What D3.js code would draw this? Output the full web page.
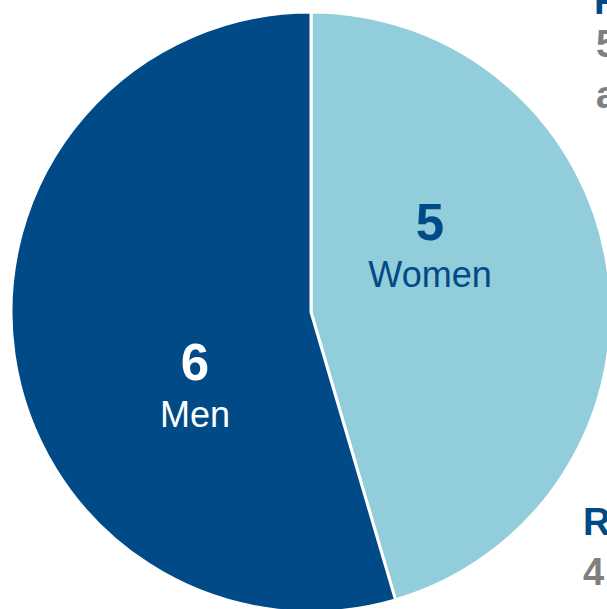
<!DOCTYPE html>
<html lang="en">
<head>
<meta charset="utf-8">
<title>Men and women</title>
<script src="https://d3js.org/d3.v7.min.js"></script>
<style>
  body { margin: 0; background: #fff; overflow: hidden; }
  text { font-family: "Liberation Sans", Arial, sans-serif; }
</style>
</head>
<body>
<script>
var categories = ["Women", "Men"];
var values = [5, 6];
var colors = ["#92CDDB", "#004A87"];
var labelColors = ["#004A87", "#ffffff"];

var w = 607, h = 609;
var cx = 311, cy = 312, radius = 300;

var svg = d3.select("body").append("svg")
  .attr("width", w)
  .attr("height", h);

var pie = d3.pie().sort(null).value(function(d) { return d; });
var arcs = pie(values);
var arc = d3.arc().innerRadius(0).outerRadius(radius);

var g = svg.append("g").attr("transform", "translate(" + cx + "," + cy + ")");

g.selectAll("path")
  .data(arcs)
  .enter().append("path")
  .attr("d", arc)
  .attr("fill", function(d, i) { return colors[i]; })
  .attr("stroke", "#fff")
  .attr("stroke-width", 3)
  .attr("stroke-linejoin", "round");

// label spots picked per slice (offset from centre)
var labelPos = [[119, -62], [-116, 78]];

var lab = g.selectAll(".lab")
  .data(arcs)
  .enter().append("g")
  .attr("class", "lab")
  .attr("transform", function(d, i) { return "translate(" + labelPos[i][0] + "," + labelPos[i][1] + ")"; });

lab.append("text")
  .attr("text-anchor", "middle")
  .attr("y", -10)
  .attr("font-size", 51)
  .attr("font-weight", "bold")
  .attr("fill", function(d, i) { return labelColors[i]; })
  .text(function(d) { return d.value; });

lab.append("text")
  .attr("text-anchor", "middle")
  .attr("y", 37)
  .attr("font-size", 36)
  .attr("fill", function(d, i) { return labelColors[i]; })
  .text(function(d, i) { return categories[i]; });

// annotations cut off at the right edge of the frame
var side = svg.append("g").attr("font-weight", "bold").attr("font-size", 38);
side.append("text").attr("x", 594).attr("y", 14).attr("fill", "#004A87").text("F");
side.append("text").attr("x", 596).attr("y", 57).attr("fill", "#7F7F7F").text("5");
side.append("text").attr("x", 596).attr("y", 108).attr("fill", "#7F7F7F").text("a");
side.append("text").attr("x", 583).attr("y", 535).attr("fill", "#004A87").text("R");
side.append("text").attr("x", 583).attr("y", 585).attr("fill", "#7F7F7F").text("4");
</script>
</body>
</html>
